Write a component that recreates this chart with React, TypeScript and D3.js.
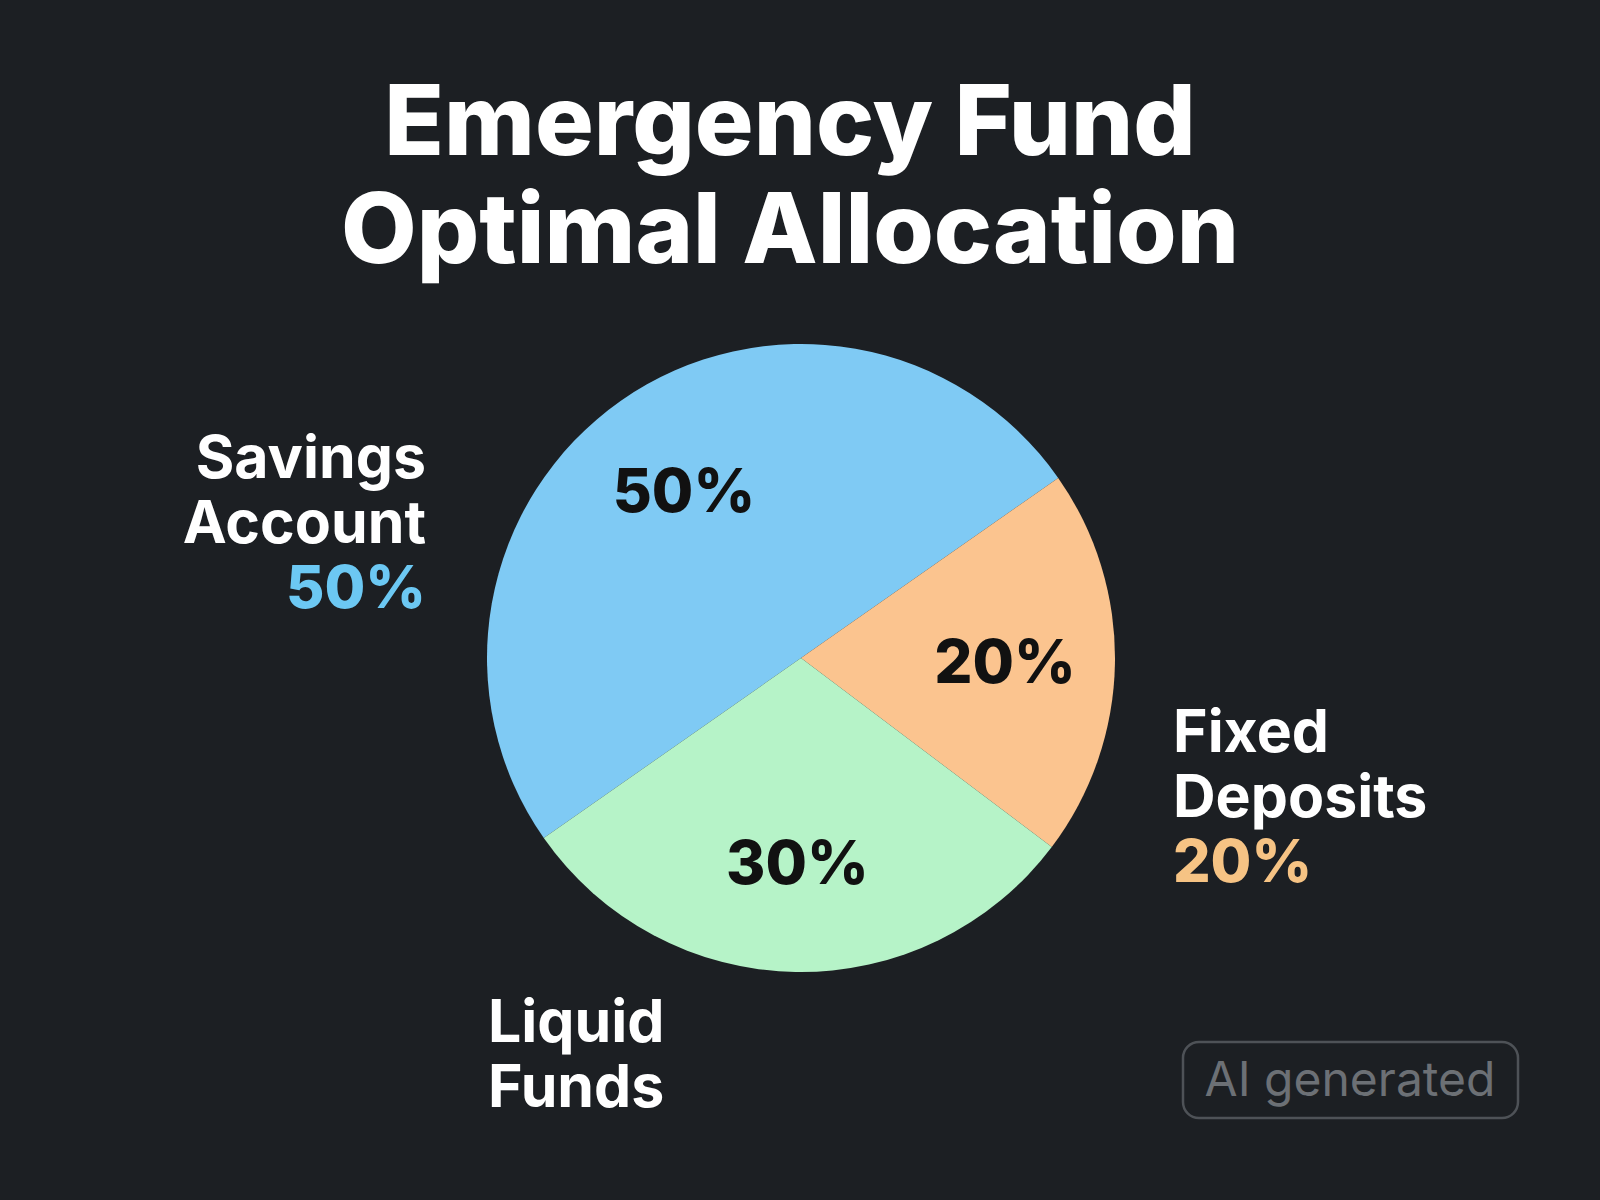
import React from "react";
import * as d3 from "d3";

const categories = ["Savings Account", "Fixed Deposits", "Liquid Funds"];
const values = [50, 20, 30];
const labelLines = [["Savings", "Account"], ["Fixed", "Deposits"], ["Liquid", "Funds"]];
const sliceColors = ["#7fcaf4", "#fbc48f", "#b6f3c8"];
const pctColors = ["#6cc8f3", "#f6c384", null];
const titleLines = ["Emergency Fund", "Optimal Allocation"];

const W = 1600;
const H = 1200;
const cx = 801;
const cy = 658;
const R = 314;
const startDeg = 235;

export default function App() {
  const pie = d3
    .pie<number>()
    .sort(null)
    .value((d) => d)
    .startAngle((startDeg * Math.PI) / 180)
    .endAngle((startDeg * Math.PI) / 180 + 2 * Math.PI);
  const arcs = pie(values);
  const arcGen = d3.arc<d3.PieArcDatum<number>>().innerRadius(0).outerRadius(R);
  const labelArc = d3
    .arc<d3.PieArcDatum<number>>()
    .innerRadius(R * 0.65)
    .outerRadius(R * 0.65);
  const fmt = (v: number) => `${v}%`;
  const font = "Inter, 'Noto Sans', sans-serif";

  const outer = [
    { x: 426, y: 478, anchor: "end" },
    { x: 1173, y: 752, anchor: "start" },
    { x: 488, y: 1042, anchor: "start" },
  ];
  const lineH = 65;

  return (
    <svg
      width={W}
      height={H}
      style={{ position: "absolute", left: 0, top: 0, display: "block" }}
      fontFamily={font}
    >
      <rect x={0} y={0} width={W} height={H} fill="#1c1f23" />
      {titleLines.map((t, i) => (
        <text
          key={t}
          x={790}
          y={155 + i * 108}
          textAnchor="middle"
          fill="#ffffff"
          fontSize={98}
          fontWeight={800}
          letterSpacing={0}
        >
          {t}
        </text>
      ))}
      <g transform={`translate(${cx},${cy})`}>
        {arcs.map((a, i) => (
          <path key={categories[i]} d={arcGen(a) || ""} fill={sliceColors[i]} />
        ))}
        {arcs.map((a, i) => {
          const [x, y] = labelArc.centroid(a);
          return (
            <text
              key={"in" + i}
              x={x}
              y={y}
              dy="0.36em"
              textAnchor="middle"
              fill="#111111"
              fontSize={60}
              fontWeight={800}
            >
              {fmt(values[i])}
            </text>
          );
        })}
      </g>
      {outer.map((o, i) => (
        <text
          key={"out" + i}
          textAnchor={o.anchor as any}
          fill="#ffffff"
          fontSize={59}
          fontWeight={700}
        >
          {labelLines[i].map((l, j) => (
            <tspan key={j} x={o.x} y={o.y + j * lineH}>
              {l}
            </tspan>
          ))}
          {pctColors[i] ? (
            <tspan x={o.x} y={o.y + 2 * lineH} fill={pctColors[i] as string} fontWeight={800}>
              {fmt(values[i])}
            </tspan>
          ) : null}
        </text>
      ))}
      <rect
        x={1183}
        y={1042}
        width={335}
        height={76}
        rx={16}
        fill="none"
        stroke="#4e5257"
        strokeWidth={2.5}
      />
      <text x={1350} y={1096} textAnchor="middle" fill="#6c7075" fontSize={48} fontWeight={400}>
        AI generated
      </text>
    </svg>
  );
}
